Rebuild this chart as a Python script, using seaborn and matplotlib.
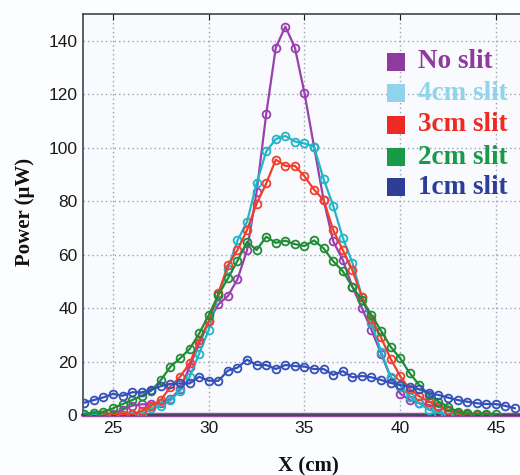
import numpy as np
import pandas as pd
import matplotlib
matplotlib.use("Agg")
import matplotlib.pyplot as plt
from matplotlib.patches import Rectangle
import seaborn as sns

nan = np.nan
x_cm = [23.5, 24.0, 24.5, 25.0, 25.5, 26.0, 26.5, 27.0, 27.5, 28.0, 28.5, 29.0, 29.5,
        30.0, 30.5, 31.0, 31.5, 32.0, 32.5, 33.0, 33.5, 34.0, 34.5, 35.0, 35.5, 36.0,
        36.5, 37.0, 37.5, 38.0, 38.5, 39.0, 39.5, 40.0, 40.5, 41.0, 41.5, 42.0, 42.5,
        43.0, 43.5, 44.0, 44.5, 45.0, 45.5, 46.0]

no_slit = [nan, nan, nan, 0.3, 2.0, 3.5, 4.0, 4.0, 4.5, 6.0, 9.6, 18.0, 26.8,
           35.0, 41.4, 44.5, 50.8, 61.7, 83.5, 112.5, 137.4, 145.3, 137.4, 120.4, 100.3, 80.4,
           65.0, 58.0, 48.0, 40.0, 31.8, 23.0, 14.0, 8.0, 5.6, 4.4, 3.7, 3.1, 1.9,
           0.9, 0.2, nan, nan, nan, nan, nan]
slit_4cm = [0.0, 0.0, 0.0, 0.0, 0.0, 0.0, 0.5, 2.5, 3.5, 5.5, 9.0, 14.3, 23.0,
            31.8, 44.9, 54.8, 65.3, 72.3, 86.7, 98.6, 103.2, 104.4, 102.3, 101.6, 100.3, 88.2,
            78.3, 66.3, 57.0, 44.2, 34.3, 23.7, 14.3, 11.0, 6.9, 4.4, 1.9, 0.9, 0.2,
            0.0, nan, nan, nan, nan, nan, nan]
slit_3cm = [nan, nan, 0.0, 0.0, 0.0, 0.3, 1.5, 3.5, 5.6, 10.6, 14.3, 19.3, 28.0,
            35.0, 45.5, 56.0, 61.7, 69.2, 79.1, 86.6, 95.5, 93.2, 93.2, 89.3, 84.3, 80.4,
            69.2, 61.7, 54.2, 44.2, 36.0, 29.0, 21.0, 14.5, 9.6, 7.0, 5.0, 3.5, 1.9,
            0.5, 0.0, 0.0, 0.0, nan, nan, nan]
slit_2cm = [0.3, 0.9, 1.2, 2.5, 4.1, 5.6, 7.2, 9.1, 13.1, 18.1, 21.2, 24.7, 30.5,
            37.4, 44.9, 51.1, 57.7, 64.8, 61.7, 66.7, 64.4, 65.2, 63.9, 63.2, 65.3, 62.3,
            57.5, 53.8, 48.0, 43.0, 37.4, 31.5, 25.5, 21.2, 15.6, 11.2, 7.5, 5.0, 3.1,
            1.2, 0.6, 0.4, 0.4, 0.4, nan, nan]
slit_1cm = [4.6, 5.6, 6.6, 7.9, 7.2, 8.5, 8.5, 9.5, 10.8, 11.6, 11.8, 11.8, 14.3,
            12.8, 12.8, 16.6, 17.7, 20.7, 18.7, 18.7, 17.2, 18.7, 18.3, 18.1, 17.2, 17.2,
            15.0, 16.4, 14.1, 14.6, 14.1, 13.1, 12.0, 11.2, 10.6, 9.6, 8.1, 7.5, 6.5,
            5.6, 5.0, 4.4, 4.1, 4.1, 3.4, 2.5]

series_names = ["No slit", "4cm slit", "3cm slit", "2cm slit", "1cm slit"]
series_values = [no_slit, slit_4cm, slit_3cm, slit_2cm, slit_1cm]
y_ticks = [0, 20, 40, 60, 80, 100, 120, 140]
x_ticks = [25, 30, 35, 40, 45]

line_colors = ["#9a3fae", "#1fb6c9", "#f0402c", "#1f8c36", "#3550b8"]
legend_colors = ["#8e3a9e", "#8fd4ea", "#ee2a24", "#1a9a48", "#2e3d98"]

rows = []
for name, vals in zip(series_names, series_values):
    for xv, yv in zip(x_cm, vals):
        rows.append({"x": xv, "power": yv, "series": name})
df = pd.DataFrame(rows).dropna()

sns.set_style("white")
plt.rcParams["font.family"] = ["Liberation Sans", "DejaVu Sans"]

W, H = 520, 475
fig = plt.figure(figsize=(W / 100, H / 100), dpi=100, facecolor="#fcfdfe")
left, right, top, bottom = 83, 530, 14, 415
ax = fig.add_axes([left / W, 1 - bottom / H, (right - left) / W, (bottom - top) / H])
ax.set_facecolor("#f8fafd")

ax.axhline(0, color="#9b4aaa", lw=3.2, zorder=1.5, clip_on=False)

sns.lineplot(data=df, x="x", y="power", hue="series", hue_order=series_names,
             palette=dict(zip(series_names, line_colors)), marker="o",
             markersize=5.6, markerfacecolor="none", markeredgewidth=1.3,
             linewidth=1.6, legend=False, ax=ax, zorder=3)
for line, c in zip(ax.get_lines()[1:], line_colors):
    line.set_markeredgecolor(c)

ax.set_xlim(23.43, 46.78)
ax.set_ylim(0, 150)
ax.set_xticks(x_ticks)
ax.set_yticks(y_ticks)
ax.grid(True, color="#93a3b0", linestyle=(0, (1, 2.2)), linewidth=1.0)
ax.set_axisbelow(True)
ax.tick_params(direction="in", length=4, top=True, labelsize=12.5, colors="#1a1a1a",
               pad=4)
for s in ["left", "top", "bottom"]:
    ax.spines[s].set_color("#3c4650")
    ax.spines[s].set_linewidth(1.2)
ax.spines["right"].set_visible(False)

serif_bold = dict(family=["Liberation Serif", "DejaVu Serif"], weight="bold")
ax.set_xlabel("")
ax.set_ylabel("")
fig.text(308 / W, 1 - 466 / H, "X (cm)", ha="center", va="center", fontsize=15,
         color="#111111", **serif_bold)
fig.text(25 / W, 1 - 212 / H, "Power (μW)", ha="center", va="center", rotation=90,
         fontsize=15, color="#111111", **serif_bold)

row_y = [62, 93, 125, 157, 187]
for name, c, yy in zip(series_names, legend_colors, row_y):
    fig.patches.append(Rectangle(((387) / W, 1 - (yy + 9) / H), 18 / W, 18 / H,
                                 transform=fig.transFigure, facecolor=c,
                                 edgecolor="none", zorder=5))
    fig.text(418 / W, 1 - yy / H, name, ha="left", va="center", fontsize=19.5,
             color=c, zorder=6, **serif_bold)

fig.savefig("out.png", dpi=100, facecolor=fig.get_facecolor())
